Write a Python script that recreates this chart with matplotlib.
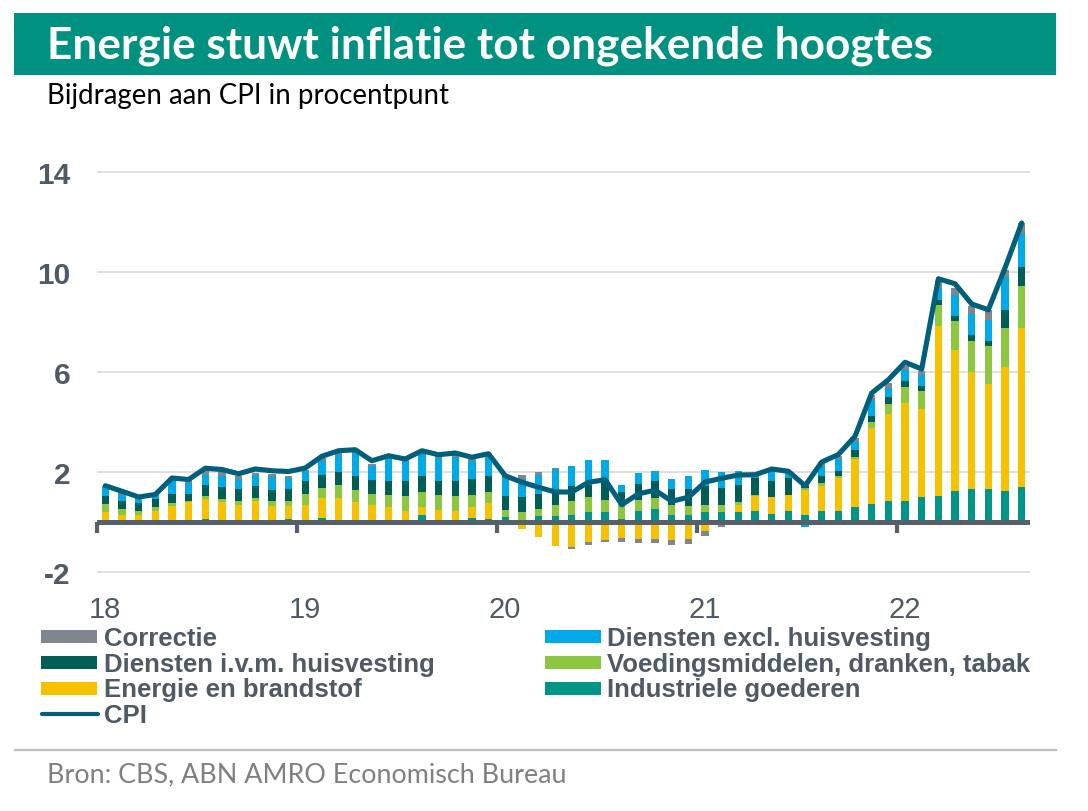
import matplotlib
matplotlib.use('Agg')
import matplotlib.pyplot as plt
import numpy as np
from matplotlib.patches import Rectangle
from matplotlib.lines import Line2D

# ---------------- data (monthly, Jan 2018 - Aug 2022) ----------------
year_labels = ['18', '19', '20', '21', '22']

industriele = [0.00, 0.00, -0.10, 0.00, 0.00, 0.00, 0.12, 0.00, 0.00, 0.00, 0.00, 0.12,
               0.05, 0.15, 0.10, 0.00, 0.00, 0.00, 0.00, 0.29, 0.10, 0.08, 0.15, 0.12,
               0.19, 0.05, 0.23, 0.23, 0.29, 0.39, 0.39, 0.13, 0.43, 0.52, 0.27, 0.27,
               0.39, 0.39, 0.39, 0.43, 0.32, 0.43, 0.30, 0.43, 0.45, 0.59, 0.73, 0.83,
               0.83, 1.00, 1.05, 1.23, 1.33, 1.33, 1.23, 1.39]
energie = [0.40, 0.29, 0.29, 0.43, 0.63, 0.79, 0.80, 0.79, 0.69, 0.85, 0.63, 0.51,
           0.64, 0.81, 0.86, 0.80, 0.69, 0.59, 0.43, 0.31, 0.39, 0.37, 0.45, 0.64,
           -0.05, -0.28, -0.60, -0.97, -1.01, -0.81, -0.73, -0.64, -0.68, -0.67, -0.73, -0.67,
           -0.35, 0.00, 0.30, 0.62, 0.67, 0.66, 1.00, 1.02, 1.31, 1.93, 3.03, 3.50,
           3.93, 3.52, 6.78, 5.66, 4.66, 4.19, 4.96, 6.37]
voeding = [0.33, 0.24, 0.16, 0.17, 0.13, 0.06, 0.11, 0.13, 0.16, 0.11, 0.20, 0.22,
           0.43, 0.40, 0.51, 0.49, 0.44, 0.50, 0.60, 0.60, 0.58, 0.58, 0.49, 0.43,
           0.28, 0.35, 0.30, 0.46, 0.56, 0.61, 0.50, 0.70, 0.46, 0.44, 0.40, 0.38,
           0.30, 0.30, 0.11, 0.02, 0.00, -0.05, 0.05, 0.11, 0.07, 0.08, 0.23, 0.40,
           0.64, 0.71, 0.86, 1.14, 1.26, 1.51, 1.57, 1.67]
huisvesting = [0.32, 0.32, 0.31, 0.33, 0.36, 0.28, 0.46, 0.47, 0.47, 0.47, 0.46, 0.47,
               0.53, 0.53, 0.52, 0.54, 0.54, 0.54, 0.60, 0.63, 0.58, 0.60, 0.63, 0.64,
               0.56, 0.60, 0.60, 0.60, 0.58, 0.49, 0.80, 0.36, 0.64, 0.67, 0.66, 0.67,
               0.74, 0.67, 0.67, 0.69, 0.66, 0.67, 0.10, 0.27, 0.22, 0.27, 0.24, 0.26,
               0.23, 0.22, 0.20, 0.20, 0.24, 0.22, 0.71, 0.76]
diensten = [0.35, 0.24, 0.17, 0.10, 0.51, 0.43, 0.40, 0.46, 0.41, 0.44, 0.51, 0.44,
            0.40, 0.56, 0.70, 0.93, 0.56, 0.89, 0.80, 0.89, 0.91, 0.97, 0.73, 0.77,
            0.86, 0.72, 0.76, 0.84, 0.80, 0.98, 0.78, 0.30, 0.43, 0.42, 0.39, 0.51,
            0.64, 0.64, 0.56, 0.10, 0.38, 0.20, -0.20, 0.42, 0.47, 0.33, 0.66, 0.37,
            0.44, 0.42, 0.47, 0.86, 0.83, 0.82, 1.33, 1.33]
correctie = [0.05, 0.10, 0.10, 0.05, 0.10, 0.12, 0.14, 0.14, 0.10, 0.10, 0.13, 0.09,
             0.05, 0.10, 0.10, 0.05, 0.09, 0.08, 0.07, 0.08, 0.08, 0.10, 0.10, 0.08,
             0.00, 0.15, 0.10, 0.04, -0.07, -0.12, -0.08, -0.16, -0.16, -0.17, -0.20, -0.20,
             -0.19, -0.21, -0.10, 0.05, 0.05, 0.07, 0.10, 0.14, 0.13, 0.16, 0.20, 0.20,
             0.16, 0.16, 0.27, 0.27, 0.31, 0.42, 0.29, 0.44]
cpi = [1.45, 1.23, 1.00, 1.10, 1.76, 1.70, 2.15, 2.10, 1.93, 2.12, 2.05, 2.02,
       2.16, 2.63, 2.85, 2.89, 2.45, 2.65, 2.52, 2.85, 2.69, 2.76, 2.59, 2.73,
       1.85, 1.59, 1.39, 1.20, 1.20, 1.59, 1.69, 0.69, 1.13, 1.27, 0.83, 0.99,
       1.60, 1.75, 1.88, 1.89, 2.12, 2.03, 1.45, 2.40, 2.70, 3.43, 5.16, 5.69,
       6.39, 6.12, 9.73, 9.53, 8.72, 8.49, 10.16, 11.96]

series_names = ['Industriele goederen', 'Energie en brandstof', 'Voedingsmiddelen, dranken, tabak',
                'Diensten i.v.m. huisvesting', 'Diensten excl. huisvesting', 'Correctie']
series_values = [industriele, energie, voeding, huisvesting, diensten, correctie]
series_colors = ['#009586', '#f5c100', '#8dc63f', '#005e55', '#00aae6', '#7f868e']
cpi_color = '#005f7b'
text_gray = '#4f5a65'

# ---------------- figure ----------------
W, H = 1088, 812
fig = plt.figure(figsize=(W / 100, H / 100), dpi=100)
renderer = fig.canvas.get_renderer()


def fx(px):
    return px / W


def fy(py):
    return 1 - py / H


def fit_text(x, y, s, target_w, family, weight, color, size0=20):
    t = fig.text(fx(x), fy(y), s, family=family, weight=weight, color=color,
                 fontsize=size0, ha='left', va='baseline')
    w = t.get_window_extent(renderer).width
    t.set_fontsize(size0 * target_w / w)
    return t


# title banner
fig.patches.append(Rectangle((fx(14), fy(76)), fx(1056) - fx(14), fy(14) - fy(76),
                             transform=fig.transFigure, facecolor='#009181',
                             edgecolor='none', zorder=0))
fit_text(47, 59, 'Energie stuwt inflatie tot ongekende hoogtes', 886,
         ['Lato', 'DejaVu Sans'], 'bold', 'white', 30)
fit_text(47, 104, 'Bijdragen aan CPI in procentpunt', 403,
         ['Lato', 'DejaVu Sans'], 'normal', 'black', 16)
fit_text(47, 782, 'Bron: CBS, ABN AMRO Economisch Bureau', 521,
         ['Lato', 'DejaVu Sans'], 'normal', '#808080', 16)

# separator line
fig.lines.append(Line2D([fx(15), fx(1056)], [fy(751), fy(751)], transform=fig.transFigure,
                        color='#bfbfbf', lw=1.6))

# ---------------- axes ----------------
ymin, ymax = -2.1, 14.1
ppu = 25.0
ax_top_px = 173 - (ymax - 14) * ppu
ax_h_px = (ymax - ymin) * ppu
ax = fig.add_axes([fx(97), fy(ax_top_px + ax_h_px), (1030 - 97) / W, ax_h_px / H])

n = len(cpi)
x = np.arange(n)
pos_bottom = np.zeros(n)
neg_bottom = np.zeros(n)
for vals, col in zip(series_values, series_colors):
    v = np.array(vals, dtype=float)
    bottom = np.where(v >= 0, pos_bottom, neg_bottom)
    ax.bar(x, v, width=0.44, bottom=bottom, color=col, zorder=2, linewidth=0)
    pos_bottom += np.clip(v, 0, None)
    neg_bottom += np.clip(v, None, 0)

ax.axhline(0, color='#56606a', lw=3.6, zorder=3)
year_starts = np.arange(0, n, 12)
ax.vlines(year_starts - 0.5, -0.45, 0, color='#56606a', lw=3.0, zorder=3, clip_on=False)

ax.plot(x, cpi, color=cpi_color, lw=3.7, zorder=4, solid_capstyle='round',
        solid_joinstyle='round')

ax.set_xlim(-0.5, n - 0.5)
ax.set_ylim(ymin, ymax)
yt = [-2, 2, 6, 10, 14]
ax.set_yticks(yt)
ax.set_yticklabels([str(v) for v in yt], family=['Liberation Sans', 'DejaVu Sans'],
                   weight='bold', fontsize=21.5, color=text_gray)
ax.set_xticks(year_starts)
ax.set_xticklabels(year_labels, family=['Liberation Sans', 'DejaVu Sans'],
                   fontsize=21, color=text_gray)
ax.tick_params(axis='y', length=0, pad=19)
ax.tick_params(axis='x', length=0, pad=15)
for v in yt:
    ax.axhline(v, color='#d9d9d9', lw=1.2, zorder=1)
for sp in ax.spines.values():
    sp.set_visible(False)
ax.set_facecolor('none')

# ---------------- legend ----------------
leg_font = ['Liberation Sans', 'DejaVu Sans']
legend_rows = [
    (41, 104, 646, 'Correctie', '#7f868e', 'patch'),
    (545, 607, 646, 'Diensten excl. huisvesting', '#00aae6', 'patch'),
    (41, 104, 672, 'Diensten i.v.m. huisvesting', '#005e55', 'patch'),
    (545, 607, 672, 'Voedingsmiddelen, dranken, tabak', '#8dc63f', 'patch'),
    (41, 104, 697.5, 'Energie en brandstof', '#f5c100', 'patch'),
    (545, 607, 697.5, 'Industriele goederen', '#009586', 'patch'),
    (41, 104, 723, 'CPI', cpi_color, 'line'),
]
probe = fig.text(0, 0, 'Voedingsmiddelen, dranken, tabak', family=leg_font, weight='bold',
                 fontsize=18)
leg_size = 18 * 423 / probe.get_window_extent(renderer).width
probe.remove()
for mx, tx, base, label, col, kind in legend_rows:
    if kind == 'patch':
        fig.patches.append(Rectangle((fx(mx), fy(base - 2)), (56) / W, 13 / H,
                                     transform=fig.transFigure, facecolor=col,
                                     edgecolor='none'))
    else:
        fig.lines.append(Line2D([fx(mx + 1), fx(mx + 57)], [fy(base - 8), fy(base - 8)],
                                transform=fig.transFigure, color=col, lw=3.0,
                                solid_capstyle='round'))
    fig.text(fx(tx), fy(base), label, family=leg_font, weight='bold', fontsize=leg_size,
             color=text_gray, ha='left', va='baseline')

fig.savefig('out.png', dpi=100)
